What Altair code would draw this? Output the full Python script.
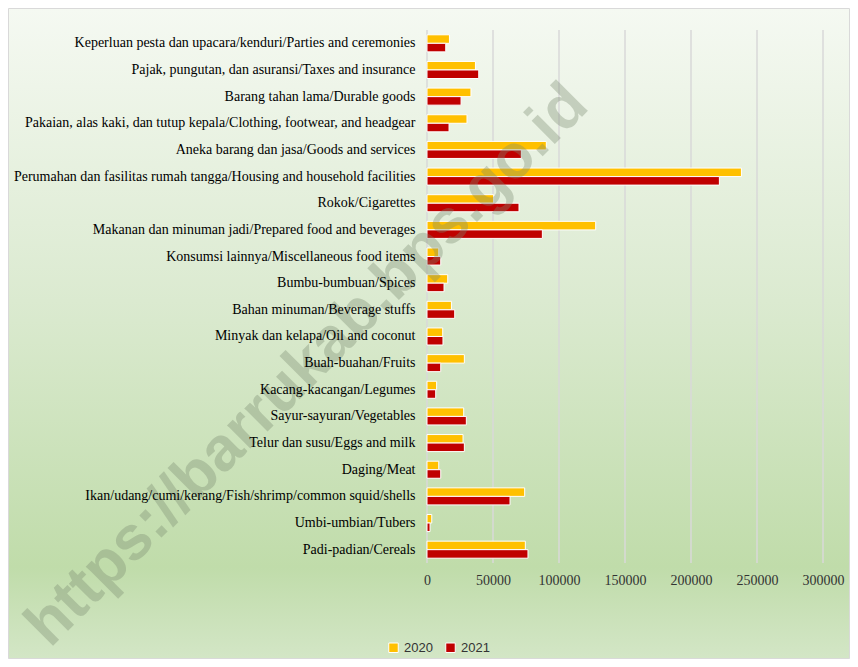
import altair as alt
import pandas as pd

categories = [
    "Keperluan pesta dan upacara/kenduri/Parties and ceremonies",
    "Pajak, pungutan, dan asuransi/Taxes and insurance",
    "Barang tahan lama/Durable goods",
    "Pakaian, alas kaki, dan tutup kepala/Clothing, footwear, and headgear",
    "Aneka barang dan jasa/Goods and services",
    "Perumahan dan fasilitas rumah tangga/Housing and household facilities",
    "Rokok/Cigarettes",
    "Makanan dan minuman jadi/Prepared food and beverages",
    "Konsumsi lainnya/Miscellaneous food items",
    "Bumbu-bumbuan/Spices",
    "Bahan minuman/Beverage stuffs",
    "Minyak dan kelapa/Oil and coconut",
    "Buah-buahan/Fruits",
    "Kacang-kacangan/Legumes",
    "Sayur-sayuran/Vegetables",
    "Telur dan susu/Eggs and milk",
    "Daging/Meat",
    "Ikan/udang/cumi/kerang/Fish/shrimp/common squid/shells",
    "Umbi-umbian/Tubers",
    "Padi-padian/Cereals",
]
values_2020 = [17000, 36700, 33300, 30300, 90400, 238200, 50500, 127800, 8900, 15700,
               18500, 11900, 28300, 7300, 27800, 27300, 8900, 74000, 3600, 74500]
values_2021 = [14200, 39200, 25800, 16700, 71500, 221500, 69700, 87400, 10400, 12900,
               21000, 12100, 10400, 6600, 29800, 28300, 10400, 62900, 2300, 76500]
years = ["2020", "2021"]
colors = ["#FFC000", "#C00000"]
x_ticks = [0, 50000, 100000, 150000, 200000, 250000, 300000]
watermark = "https://barrukab.bps.go.id"

rows = []
for c, a, b in zip(categories, values_2020, values_2021):
    rows.append({"cat": c, "year": years[0], "value": a})
    rows.append({"cat": c, "year": years[1], "value": b})
df = pd.DataFrame(rows)

W, H = 396, 533
PL, PT, PR, PB = 419, 22, 27, 96

bg = alt.Chart(pd.DataFrame({"a": [0]})).mark_rect(
    color=alt.Gradient(
        gradient="linear", x1=0, y1=0, x2=0, y2=1,
        stops=[
            alt.GradientStop(color="#f5f9f2", offset=0),
            alt.GradientStop(color="#dbead0", offset=0.45),
            alt.GradientStop(color="#c0dcaa", offset=0.86),
            alt.GradientStop(color="#d3e6c6", offset=1),
        ],
    ),
    stroke="#d9d9d9", strokeWidth=1,
).encode(
    x=alt.value(-PL + 0.5), x2=alt.value(W + PR - 0.5),
    y=alt.value(-PT + 0.5), y2=alt.value(H + PB - 0.5),
)

x_scale = alt.Scale(domain=[0, 300000], nice=False)
x_axis = alt.Axis(values=x_ticks, format="d", domain=False, ticks=False,
                  grid=False, labelFlush=False, labelOverlap=False,
                  labelFont="Liberation Serif", labelFontSize=14,
                  labelColor="#333333", labelPadding=10, zindex=1)

grid = alt.Chart(pd.DataFrame({"tick": x_ticks})).mark_rule(
    color="#d9d9d9", strokeWidth=1.5
).encode(x=alt.X("tick:Q", scale=x_scale, axis=x_axis, title=None))

bars = alt.Chart(df).mark_bar(stroke="white", strokeWidth=1).encode(
    y=alt.Y("cat:N", sort=categories, title=None,
            scale=alt.Scale(paddingInner=0.36, paddingOuter=0.18),
            axis=alt.Axis(domain=False, ticks=False, labelLimit=0, labelPadding=12,
                          labelFont="Liberation Serif", labelFontSize=14,
                          labelColor="#000000", zindex=1)),
    yOffset=alt.YOffset("year:N", sort=years, scale=alt.Scale(paddingInner=0.0)),
    x=alt.X("value:Q", title=None, scale=x_scale, axis=x_axis),
    color=alt.Color("year:N", sort=years, title=None,
                    scale=alt.Scale(domain=years, range=colors),
                    legend=alt.Legend(orient="none", legendX=-40, legendY=611,
                                      direction="horizontal", symbolType="square",
                                      symbolSize=90, symbolStrokeColor="white",
                                      labelFont="Liberation Sans", labelFontSize=13,
                                      labelColor="#333333", columnPadding=10,
                                      symbolStrokeWidth=1)),
)

wm = alt.Chart(pd.DataFrame({"t": [watermark]})).mark_text(
    font="Liberation Sans", fontWeight="bold", fontSize=62, angle=315,
    color="#7a8a70", opacity=0.35, align="center", baseline="middle",
).encode(text="t:N", x=alt.value(-120), y=alt.value(335))

chart = alt.layer(bg, grid, bars, wm).properties(
    width=W, height=H,
    autosize=alt.AutoSizeParams(type="none"),
    padding={"top": PT, "left": PL, "right": PR, "bottom": PB},
).configure_view(stroke=None).configure(background="white")

chart.save("out.html", embed_options={"renderer": "svg", "actions": False})
